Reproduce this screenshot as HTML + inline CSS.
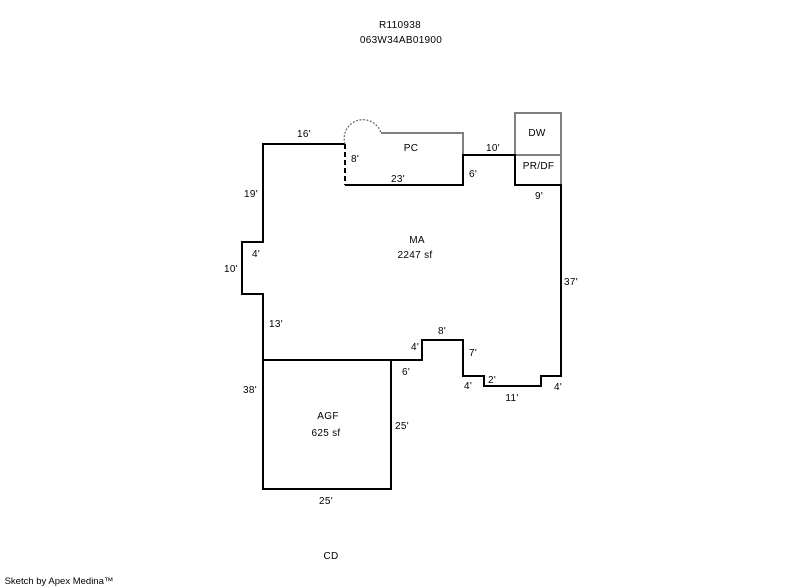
<!DOCTYPE html>
<html><head><meta charset="utf-8"><style>
html,body{margin:0;padding:0;background:#fff;width:800px;height:587px;overflow:hidden}
svg{display:block}
text{font-family:"Liberation Sans",Arial,sans-serif;font-size:10px;fill:#000;text-anchor:middle;letter-spacing:.3px}
</style></head><body>
<svg width="800" height="587" viewBox="0 0 800 587" xmlns="http://www.w3.org/2000/svg">
<g fill="none" stroke-width="2" shape-rendering="crispEdges">
<path d="M381 133H463V155M515 155V113H561V185M515 155H561" stroke="#808080"/>
<path d="M345 144H263V242H242V294H263V489H391V360M263 360H422V340H463V376H484V386H541V376H561V185H515V155H463V185H345" stroke="#000"/>
<path d="M345 144V185" stroke="#000" stroke-dasharray="5 3"/>
</g>
<path d="M345 144A18.500 18.500 0 1 1 381 133" fill="none" stroke="#666" stroke-width="1.200" stroke-dasharray="2 1.500"/>
<text x="400" y="28">R110938</text>
<text x="401" y="43">063W34AB01900</text>
<text x="304" y="137">16'</text>
<text x="251" y="197">19'</text>
<text x="256" y="257">4'</text>
<text x="231" y="272">10'</text>
<text x="355" y="162">8'</text>
<text x="411" y="151">PC</text>
<text x="398" y="182">23'</text>
<text x="473" y="177">6'</text>
<text x="493" y="151">10'</text>
<text x="537" y="136">DW</text>
<text x="538.500" y="169">PR/DF</text>
<text x="539" y="199">9'</text>
<text x="417" y="243">MA</text>
<text x="415" y="258">2247 sf</text>
<text x="571" y="285">37'</text>
<text x="276" y="327">13'</text>
<text x="442" y="334">8'</text>
<text x="415" y="350">4'</text>
<text x="473" y="356">7'</text>
<text x="406" y="375">6'</text>
<text x="468" y="389">4'</text>
<text x="492" y="383">2'</text>
<text x="512" y="401">11'</text>
<text x="558" y="390">4'</text>
<text x="250" y="393">38'</text>
<text x="402" y="429">25'</text>
<text x="328" y="419">AGF</text>
<text x="326" y="436">625 sf</text>
<text x="326" y="504">25'</text>
<text x="331" y="559">CD</text>
<text x="59" y="584" style="letter-spacing:0;font-size:9.5px">Sketch by Apex Medina™</text>
</svg>
</body></html>
